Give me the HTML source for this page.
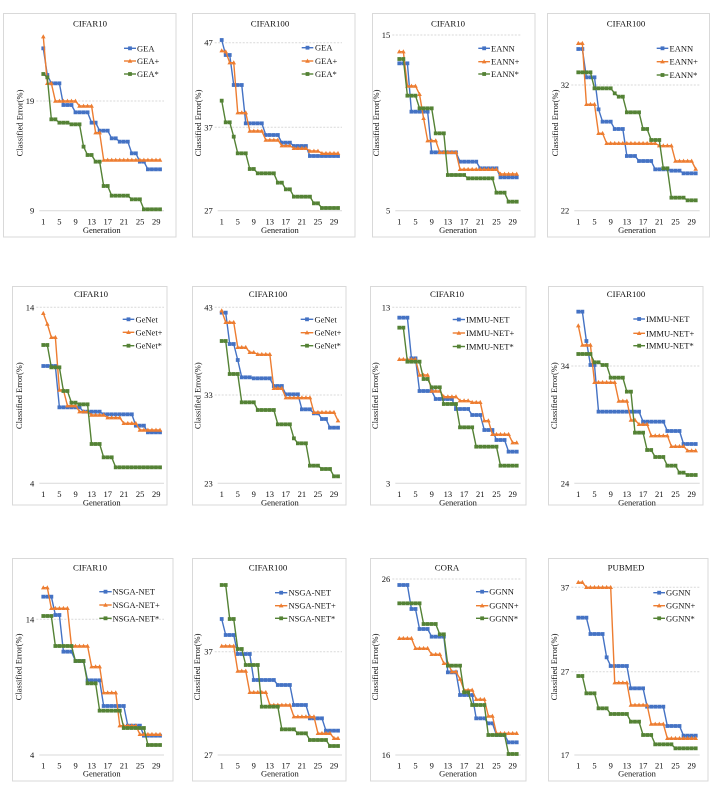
<!DOCTYPE html>
<html><head><meta charset="utf-8">
<style>
html,body{margin:0;padding:0;background:#fff;}
svg{display:block;}
svg text{font-family:"Liberation Serif","Times New Roman",serif;font-size:8.5px;fill:#111;}
.t{text-anchor:middle;font-size:8.8px;}
.m{text-anchor:middle;}
.e{text-anchor:end;}
.box{fill:none;stroke:#d9d9d9;stroke-width:1;}
</style></head>
<body>
<svg id="s" width="715" height="790" viewBox="0 0 715 790" xmlns="http://www.w3.org/2000/svg">
<rect class="box" x="3.5" y="13.5" width="172.5" height="223.5"/>
<rect class="box" x="192.5" y="13.5" width="162.5" height="223.5"/>
<rect class="box" x="372.5" y="13.5" width="162.5" height="223.5"/>
<rect class="box" x="547.5" y="13.5" width="162" height="223.5"/>
<rect class="box" x="12.5" y="286.5" width="154.5" height="218.5"/>
<rect class="box" x="192.5" y="286.5" width="153.5" height="218.5"/>
<rect class="box" x="370.5" y="286.5" width="155.5" height="218.5"/>
<rect class="box" x="548.5" y="286.5" width="154.5" height="218.5"/>
<rect class="box" x="12.5" y="558.5" width="160.5" height="222.5"/>
<rect class="box" x="192.5" y="558.5" width="153.5" height="222.5"/>
<rect class="box" x="370.5" y="558.5" width="155.5" height="222.5"/>
<rect class="box" x="548.5" y="558.5" width="159.5" height="222.5"/>

<g id="plots"></g>

<text class="t" x="90" y="26.5">CIFAR10</text>
<text class="t" x="270" y="26.5">CIFAR100</text>
<text class="t" x="448" y="26.5">CIFAR10</text>
<text class="t" x="626" y="26.5">CIFAR100</text>
<text class="t" x="91" y="297">CIFAR10</text>
<text class="t" x="268" y="297">CIFAR100</text>
<text class="t" x="447" y="297">CIFAR10</text>
<text class="t" x="626" y="297">CIFAR100</text>
<text class="t" x="90" y="570.5">CIFAR10</text>
<text class="t" x="268" y="570.5">CIFAR100</text>
<text class="t" x="447" y="570.5">CORA</text>
<text class="t" x="626" y="570.5">PUBMED</text>

<text class="e" x="34.3" y="104">19</text><text class="e" x="34.3" y="213.7">9</text>
<text class="e" x="212.7" y="45.7">47</text><text class="e" x="212.7" y="130.3">37</text><text class="e" x="212.7" y="213.7">27</text>
<text class="e" x="390.3" y="38">15</text><text class="e" x="390.3" y="213.7">5</text>
<text class="e" x="569.3" y="88">32</text><text class="e" x="569.3" y="213.7">22</text>
<text class="e" x="34.3" y="310.3">14</text><text class="e" x="34.3" y="486.3">4</text>
<text class="e" x="212.7" y="310.3">43</text><text class="e" x="212.7" y="398">33</text><text class="e" x="212.7" y="486.3">23</text>
<text class="e" x="390.3" y="310.3">13</text><text class="e" x="390.3" y="486.3">3</text>
<text class="e" x="569.3" y="369">34</text><text class="e" x="569.3" y="486.3">24</text>
<text class="e" x="34.3" y="622.3">14</text><text class="e" x="34.3" y="758">4</text>
<text class="e" x="212.7" y="654.7">37</text><text class="e" x="212.7" y="758">27</text>
<text class="e" x="390.3" y="582">26</text><text class="e" x="390.3" y="758">16</text>
<text class="e" x="569.3" y="590.3">37</text><text class="e" x="569.3" y="674.7">27</text><text class="e" x="569.3" y="758">17</text>

<text class="m" y="224.5"><tspan x="43.3">1</tspan><tspan x="59.4">5</tspan><tspan x="75.6">9</tspan><tspan x="91.7">13</tspan><tspan x="107.8">17</tspan><tspan x="124">21</tspan><tspan x="140.1">25</tspan><tspan x="156.3">29</tspan></text>
<text class="m" y="224.5"><tspan x="221.7">1</tspan><tspan x="237.7">5</tspan><tspan x="253.8">9</tspan><tspan x="269.8">13</tspan><tspan x="285.8">17</tspan><tspan x="301.9">21</tspan><tspan x="317.9">25</tspan><tspan x="334">29</tspan></text>
<text class="m" y="224.5"><tspan x="399.3">1</tspan><tspan x="415.5">5</tspan><tspan x="431.7">9</tspan><tspan x="447.9">13</tspan><tspan x="464.1">17</tspan><tspan x="480.3">21</tspan><tspan x="496.5">25</tspan><tspan x="512.6">29</tspan></text>
<text class="m" y="224.5"><tspan x="578.3">1</tspan><tspan x="594.5">5</tspan><tspan x="610.7">9</tspan><tspan x="626.9">13</tspan><tspan x="643.1">17</tspan><tspan x="659.3">21</tspan><tspan x="675.5">25</tspan><tspan x="691.6">29</tspan></text>

<text class="m" y="497"><tspan x="43.3">1</tspan><tspan x="59.4">5</tspan><tspan x="75.6">9</tspan><tspan x="91.7">13</tspan><tspan x="107.8">17</tspan><tspan x="124">21</tspan><tspan x="140.1">25</tspan><tspan x="156.3">29</tspan></text>
<text class="m" y="497"><tspan x="221.7">1</tspan><tspan x="237.7">5</tspan><tspan x="253.8">9</tspan><tspan x="269.8">13</tspan><tspan x="285.8">17</tspan><tspan x="301.9">21</tspan><tspan x="317.9">25</tspan><tspan x="334">29</tspan></text>
<text class="m" y="497"><tspan x="399.3">1</tspan><tspan x="415.5">5</tspan><tspan x="431.7">9</tspan><tspan x="447.9">13</tspan><tspan x="464.1">17</tspan><tspan x="480.3">21</tspan><tspan x="496.5">25</tspan><tspan x="512.6">29</tspan></text>
<text class="m" y="497"><tspan x="578.3">1</tspan><tspan x="594.5">5</tspan><tspan x="610.7">9</tspan><tspan x="626.9">13</tspan><tspan x="643.1">17</tspan><tspan x="659.3">21</tspan><tspan x="675.5">25</tspan><tspan x="691.6">29</tspan></text>

<text class="m" y="768.5"><tspan x="43.3">1</tspan><tspan x="59.4">5</tspan><tspan x="75.6">9</tspan><tspan x="91.7">13</tspan><tspan x="107.8">17</tspan><tspan x="124">21</tspan><tspan x="140.1">25</tspan><tspan x="156.3">29</tspan></text>
<text class="m" y="768.5"><tspan x="221.7">1</tspan><tspan x="237.7">5</tspan><tspan x="253.8">9</tspan><tspan x="269.8">13</tspan><tspan x="285.8">17</tspan><tspan x="301.9">21</tspan><tspan x="317.9">25</tspan><tspan x="334">29</tspan></text>
<text class="m" y="768.5"><tspan x="399.3">1</tspan><tspan x="415.5">5</tspan><tspan x="431.7">9</tspan><tspan x="447.9">13</tspan><tspan x="464.1">17</tspan><tspan x="480.3">21</tspan><tspan x="496.5">25</tspan><tspan x="512.6">29</tspan></text>
<text class="m" y="768.5"><tspan x="578.3">1</tspan><tspan x="594.5">5</tspan><tspan x="610.7">9</tspan><tspan x="626.9">13</tspan><tspan x="643.1">17</tspan><tspan x="659.3">21</tspan><tspan x="675.5">25</tspan><tspan x="691.6">29</tspan></text>

<text class="m" x="101.7" y="233">Generation</text>
<text class="m" x="279.9" y="233">Generation</text>
<text class="m" x="458" y="233">Generation</text>
<text class="m" x="637" y="233">Generation</text>
<text class="m" x="101.7" y="505.3">Generation</text>
<text class="m" x="279.9" y="505.3">Generation</text>
<text class="m" x="458" y="505.3">Generation</text>
<text class="m" x="637" y="505.3">Generation</text>
<text class="m" x="101.7" y="776.7">Generation</text>
<text class="m" x="279.9" y="776.7">Generation</text>
<text class="m" x="458" y="776.7">Generation</text>
<text class="m" x="637" y="776.7">Generation</text>

<text class="m" transform="translate(22.3,123) rotate(-90)">Classified Error(%)</text>
<text class="m" transform="translate(201,123) rotate(-90)">Classified Error(%)</text>
<text class="m" transform="translate(379,123) rotate(-90)">Classified Error(%)</text>
<text class="m" transform="translate(558,123) rotate(-90)">Classified Error(%)</text>
<text class="m" transform="translate(22,395.7) rotate(-90)">Classified Error(%)</text>
<text class="m" transform="translate(200.3,395.7) rotate(-90)">Classified Error(%)</text>
<text class="m" transform="translate(378,395.7) rotate(-90)">Classified Error(%)</text>
<text class="m" transform="translate(557,395.7) rotate(-90)">Classified Error(%)</text>
<text class="m" transform="translate(21.3,667) rotate(-90)">Classified Error(%)</text>
<text class="m" transform="translate(200,667) rotate(-90)">Classified Error(%)</text>
<text class="m" transform="translate(378,667) rotate(-90)">Classified Error(%)</text>
<text class="m" transform="translate(557,667) rotate(-90)">Classified Error(%)</text>

<text x="137" y="51.3">GEA</text><text x="137" y="64">GEA+</text><text x="137" y="77">GEA*</text>
<text x="315" y="50.7">GEA</text><text x="315" y="64">GEA+</text><text x="315" y="77">GEA*</text>
<text x="491" y="51.3">EANN</text><text x="491" y="64.7">EANN+</text><text x="491" y="77">EANN*</text>
<text x="669.5" y="51.3">EANN</text><text x="669.5" y="64.7">EANN+</text><text x="669.5" y="78">EANN*</text>
<text x="135.5" y="322.3">GeNet</text><text x="135.5" y="335.3">GeNet+</text><text x="135.5" y="348.7">GeNet*</text>
<text x="314.5" y="322.3">GeNet</text><text x="314.5" y="335.7">GeNet+</text><text x="314.5" y="348.7">GeNet*</text>
<text x="466" y="322.5">IMMU-NET</text><text x="466" y="336">IMMU-NET+</text><text x="466" y="349.5">IMMU-NET*</text>
<text x="646" y="322">IMMU-NET</text><text x="646" y="336.3">IMMU-NET+</text><text x="646" y="348.7">IMMU-NET*</text>
<text x="112.5" y="594.7">NSGA-NET</text><text x="112.5" y="608">NSGA-NET+</text><text x="112.5" y="621.3">NSGA-NET*</text>
<text x="288.5" y="595.7">NSGA-NET</text><text x="288.5" y="608.7">NSGA-NET+</text><text x="288.5" y="621.3">NSGA-NET*</text>
<text x="489.3" y="594.7">GGNN</text><text x="489.3" y="608.7">GGNN+</text><text x="489.3" y="621.3">GGNN*</text>
<text x="666" y="595.7">GGNN</text><text x="666" y="608.7">GGNN+</text><text x="666" y="621.3">GGNN*</text>
</svg>
<script>
(function(){
var NS="http://www.w3.org/2000/svg";
var G=document.getElementById("plots");
var COLS=[[43.3,160],[221.7,338],[399.3,516.7],[578.3,695.7]];
var OY=[0,255,535];
var AX=[210.7,483.3,755];
var COL=["#4472C4","#ED7D31","#548235"];
function ex(a){var r=[];for(var i=0;i<a.length;i+=2)for(var k=0;k<a[i+1];k++)r.push(a[i]);return r;}
function el(n,at){var e=document.createElementNS(NS,n);for(var k in at)e.setAttribute(k,at[k]);G.appendChild(e);return e;}
function mk(s,x,y){
  if(s==1){el("polygon",{points:(x-2.3)+","+(y+1.7)+" "+(x+2.3)+","+(y+1.7)+" "+x+","+(y-2.4),fill:COL[1]});}
  else{el("rect",{x:x-1.9,y:y-1.9,width:3.8,height:3.8,fill:COL[s]});}
}
var C=[
{r:0,c:0,grid:[101],leg:[124,136,[48.3,61,74]],
B:[145,1,225,1,250,3,315,3,337,4,368,2,392,3,415,2,425,3,460,2,485,2,508,4],
O:[110,1,250,2,303,6,318,4,398,2,480,15],
Gr:[222,1,232,1,358,2,368,3,373,3,440,1,465,2,485,2,558,2,587,5,598,3,628,5]},
{r:0,c:1,grid:[42.7,127.3],leg:[301.7,313.3,[47.7,61,74]],
B:[120,1,165,2,255,3,370,5,405,4,428,3,438,4,468,8],
O:[152,1,155,1,188,2,338,3,393,4,420,4,437,3,445,4,453,3,460,5],
Gr:[302,1,367,2,410,1,460,3,507,2,520,5,548,2,568,2,590,5,610,2,624,5]},
{r:0,c:2,grid:[35],leg:[478.3,490,[48.3,61.7,74]],
B:[190,3,335,5,457,7,485,5,505,5,532,5],
O:[155,2,258,3,283,1,355,1,422,3,457,5,508,10,522,5],
Gr:[177,2,287,3,325,4,400,3,525,5,535,7,578,3,605,3]},
{r:0,c:3,grid:[85],leg:[656.7,668.3,[48.3,61.7,75]],
B:[147,2,232,3,328,1,365,3,387,3,468,3,483,4,508,4,512,3,520,4],
O:[130,2,313,3,400,2,430,13,437,4,483,5,507,1],
Gr:[217,4,265,5,280,1,290,2,337,4,387,2,420,3,505,2,593,4,601,3]},
{r:1,c:0,grid:[307.3],leg:[122.7,134.3,[319.3,332.3,345.7]],
B:[333,4,457,6,470,5,478,8,512,3,532,4],
O:[175,1,207,1,247,2,405,2,452,3,470,3,480,4,488,4,505,4,525,6],
Gr:[270,2,337,3,408,2,443,2,448,3,567,3,607,3,637,12]},
{r:1,c:1,grid:[307.3,395],leg:[300.7,313.3,[319.3,332.7,345.7]],
B:[173,2,267,2,315,1,367,3,370,5,393,3,418,4,463,3,475,2,492,2,518,3],
O:[167,1,202,3,277,3,292,2,298,4,400,3,428,7,472,6,497,1],
Gr:[258,2,357,3,442,4,465,5,508,4,550,1,565,3,632,3,642,3,664,2]},
{r:1,c:2,grid:[307.3],leg:[452.7,465,[319.5,333,346.5]],
B:[188,3,310,2,408,4,432,5,462,4,480,3,525,3,555,3,590,3],
O:[313,5,360,3,408,3,425,4,437,3,442,3,497,2,538,5,563,2],
Gr:[218,2,320,4,372,2,397,3,447,4,517,4,575,6,632,5]},
{r:1,c:3,grid:[366],leg:[633.3,645,[319,333.3,345.7]],
B:[170,2,258,1,330,2,470,11,500,6,528,4,567,4],
O:[212,1,270,3,382,6,438,3,495,2,508,3,542,5,574,4,587,3],
Gr:[297,4,322,2,330,2,368,4,410,2,533,3,585,2,606,3,632,3,653,2,660,3]},
{r:2,c:0,grid:[619.3],leg:[99.3,111.7,[591.7,605,618.3]],
B:[185,3,240,2,350,3,378,3,436,4,513,6,572,4,602,5],
O:[158,2,220,5,333,5,395,3,473,4,572,5,598,6],
Gr:[243,3,333,5,378,3,445,3,527,6,579,6,630,4]},
{r:2,c:1,grid:[651.7],leg:[275,287.3,[592.7,605.7,618.3]],
B:[252,1,300,3,357,4,435,6,450,4,510,4,550,4,587,4],
O:[333,4,408,3,472,5,510,6,545,6,595,4,610,2],
Gr:[150,2,252,2,342,2,390,4,515,5,583,4,595,3,615,5,633,3]},
{r:2,c:2,grid:[579],leg:[476,488.3,[591.7,605.7,618.3]],
B:[150,3,222,2,282,3,305,4,412,3,480,4,550,3,565,2,600,3,622,3],
O:[310,4,340,4,358,3,385,2,410,2,432,1,465,3,493,3,543,2,595,6],
Gr:[205,6,267,4,298,2,392,4,472,2,510,4,600,5,657,3]},
{r:2,c:3,grid:[587.3,671.7],leg:[653.3,665,[592.7,605.7,618.3]],
B:[248,3,297,4,367,1,393,5,460,4,515,5,573,4,602,4],
O:[142,2,157,7,443,4,510,5,567,4,610,8],
Gr:[423,2,475,3,520,3,537,5,560,3,600,3,628,5,640,6]}
];
C.forEach(function(ch){
  var x1=COLS[ch.c][0],x2=COLS[ch.c][1],oy=OY[ch.r],ay=AX[ch.r];
  ch.grid.forEach(function(gy){
    el("line",{x1:x1-7,x2:x2+4,y1:gy,y2:gy,stroke:"#d9d9d9","stroke-width":1,"stroke-dasharray":"2,1.5"});
  });
  el("line",{x1:x1-4,x2:x2+4,y1:ay,y2:ay,stroke:"#d9d9d9","stroke-width":1});
  [ch.B,ch.O,ch.Gr].forEach(function(arr,s){
    var v=ex(arr),pts=[],n=v.length;
    for(var i=0;i<n;i++){var x=x1+i*(x2-x1)/(n-1),y=oy+v[i]/3;pts.push([x,y]);}
    el("polyline",{points:pts.map(function(p){return p[0].toFixed(2)+","+p[1].toFixed(2);}).join(" "),fill:"none",stroke:COL[s],"stroke-width":1.4,"stroke-linejoin":"round"});
    pts.forEach(function(p){mk(s,p[0],p[1]);});
    var L=ch.leg,ly=L[2][s];
    el("line",{x1:L[0],x2:L[1],y1:ly,y2:ly,stroke:COL[s],"stroke-width":1.4});
    mk(s,(L[0]+L[1])/2,ly);
  });
});
})();
</script>
</body></html>
